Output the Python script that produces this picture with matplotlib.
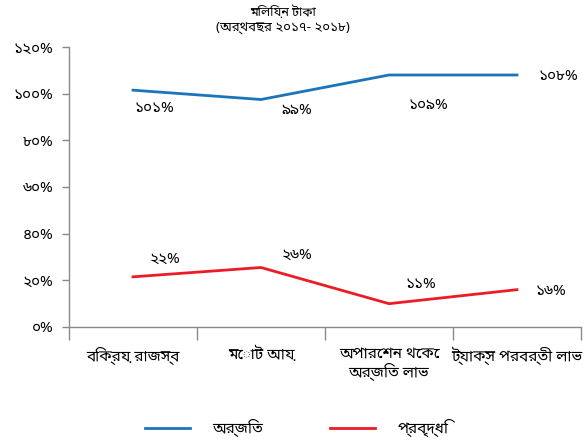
import matplotlib
matplotlib.use('Agg')
import matplotlib.pyplot as plt

plt.rcParams['font.family'] = ['Noto Sans Bengali', 'DejaVu Sans']

# ডেটা
categories = ['বিক্রয় রাজস্ব', 'মোট আয়', 'অপারেশন থেকে\nঅর্জিত লাভ', 'ট্যাক্স পরবর্তী লাভ']
arjito = [101.5, 97.5, 108, 108]
arjito_labels = ['১০১%', '৯৯%', '১০৯%', '১০৮%']
probriddhi = [21.5, 25.5, 10, 16]
probriddhi_labels = ['২২%', '২৬%', '১১%', '১৬%']
y_ticks = [0, 20, 40, 60, 80, 100, 120]
y_tick_labels = ['০%', '২০%', '৪০%', '৬০%', '৮০%', '১০০%', '১২০%']

blue = '#1b75bb'
red = '#ed1c24'
grey = '#8a8a8a'

fig = plt.figure(figsize=(5.85, 4.42), dpi=100)
ax = fig.add_axes([69 / 585, 115 / 442, 512 / 585, 280 / 442])

x = list(range(len(categories)))
l1, = ax.plot(x, arjito, color=blue, lw=2.0, label='অর্জিত')
l2, = ax.plot(x, probriddhi, color=red, lw=2.0, label='প্রবৃদ্ধি')

# লেবেল (পিক্সেল অফসেট)
off_a = [(21, -18), (36, -11), (39, -30), (41, -2)]
off_p = [(32, 18), (36, 12), (32, 19), (34, -2)]
for i in x:
    ax.annotate(arjito_labels[i], (i, arjito[i]), xytext=off_a[i], textcoords='offset pixels',
                ha='center', va='center', fontsize=11)
    ax.annotate(probriddhi_labels[i], (i, probriddhi[i]), xytext=off_p[i], textcoords='offset pixels',
                ha='center', va='center', fontsize=11)

ax.set_xlim(-0.5, len(categories) - 0.5)
ax.set_ylim(0, 120)
ax.set_yticks(y_ticks)
ax.set_yticklabels(y_tick_labels, fontsize=11)
ax.set_xticks([i - 0.5 for i in range(len(categories) + 1)])
ax.set_xticklabels([])
ax.set_xticks(x, minor=True)
ax.set_xticklabels(categories, minor=True, fontsize=11, linespacing=1.1, va='top')
ax.tick_params(axis='x', which='major', length=9, width=1, color=grey)
ax.tick_params(axis='x', which='minor', length=0, pad=14)
ax.tick_params(axis='y', length=5, width=1, color=grey, pad=6)

for s in ['top', 'right']:
    ax.spines[s].set_visible(False)
for s in ['left', 'bottom']:
    ax.spines[s].set_color(grey)
    ax.spines[s].set_linewidth(1)

fig.text(283 / 585, 1 - 12 / 442, 'মিলিয়ন টাকা', ha='center', va='center', fontsize=9)
fig.text(283 / 585, 1 - 28 / 442, '(অর্থবছর ২০১৭- ২০১৮)', ha='center', va='center',
         fontsize=9.5, fontweight='bold')

fig.legend(handles=[l1, l2], loc='center', bbox_to_anchor=(297 / 585, 1 - 428 / 442), ncol=2,
           frameon=False, fontsize=11, handlelength=2.9, handletextpad=1.5, columnspacing=4.4)

fig.savefig('out.png', dpi=100)
